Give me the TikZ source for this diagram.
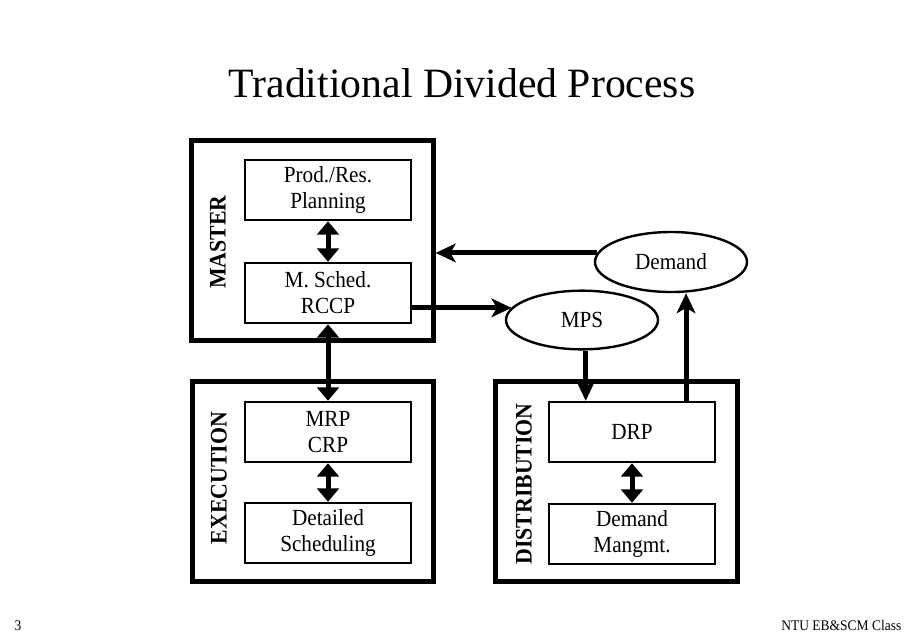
\documentclass[tikz,border=0pt]{standalone}
\usepackage{fontspec}
\setmainfont{Liberation Serif}
\newfontfamily\boxfont[FakeStretch=0.92]{Liberation Serif}
\usetikzlibrary{arrows.meta}
\usetikzlibrary{shapes.geometric}
\tikzset{>={Stealth[length=15pt,width=14pt,inset=4pt]}}
\tikzset{
  outerbox/.style={draw, line width=3.75pt, minimum width=181pt, minimum height=150pt},
  stagebox/.style={draw, line width=1.8pt, minimum width=124.5pt, minimum height=45pt,
    inner sep=0pt, align=center, font=\boxfont\fontsize{17.3}{19.5}\selectfont},
  dataoval/.style={draw, ellipse, line width=1.8pt, minimum width=114pt, minimum height=44pt,
    inner sep=0pt, font=\boxfont\fontsize{17.3}{19.5}\selectfont},
  sidelabel/.style={rotate=90, font=\boxfont\fontsize{17.8}{19}\selectfont\bfseries},
  flow/.style={->, line width=3.75pt},
  twoway/.style={line width=3.75pt, {Triangle[length=10pt,width=16pt]}-{Triangle[length=10pt,width=16pt]}},
}

\begin{document}
\begin{tikzpicture}[x=0.75pt, y=-0.75pt]
        \useasboundingbox (0, 0) rectangle (920, 636);
        % title
        \node[anchor=base, font=\fontsize{31.3}{36}\selectfont] (title) at (462, 97) {Traditional Divided Process};
        % outer boxes
        \node[outerbox] (master) at (312.5, 240) {};
        \node[outerbox] (exec) at (313, 481.5) {};
        \node[outerbox] (distr) at (616.5, 481.5) {};
        \node[sidelabel] (masterlbl) at (218, 242) {MASTER};
        \node[sidelabel] (execlbl) at (219, 478) {EXECUTION};
        \node[sidelabel] (distrlbl) at (524, 484) {DISTRIBUTION};
        % inner boxes
        \node[stagebox] (prod) at (328, 190) {Prod./Res.\\Planning};
        \node[stagebox] (ms) at (328, 293) {M. Sched.\\RCCP};
        \node[stagebox] (mrp) at (328, 432) {MRP\\CRP};
        \node[stagebox] (det) at (328, 533) {Detailed\\Scheduling};
        \node[stagebox] (drp) at (632, 432) {DRP};
        \node[stagebox] (dmgmt) at (632, 534) {Demand\\Mangmt.};
        % ovals
        \node[dataoval] (mps) at (582, 320) {MPS};
        \node[dataoval, minimum height=45pt] (demand) at (671, 262) {Demand};
        % arrows
        \draw[twoway] (prod) -- (ms);
        \draw[twoway] (ms) -- (mrp);
        \draw[twoway] (mrp) -- (det);
        \draw[twoway] (drp) -- (dmgmt);
        \draw[flow] (ms.-10) -- (ms.-10 -| mps.170);
        \draw[flow] (demand.173) -- (demand.173 -| master.east);
        \draw[flow] (drp.146 |- mps.south) -- (drp.146);
        \draw[flow] (drp.30) -- (drp.30 |- demand.south);
        % footer
        \node[font=\boxfont\fontsize{11}{12}\selectfont, anchor=base] (page) at (18, 630) {3};
        \node[font=\boxfont\fontsize{11}{12}\selectfont, anchor=base east] (course) at (906, 630) {NTU EB\&SCM Class};
\end{tikzpicture}
\end{document}
